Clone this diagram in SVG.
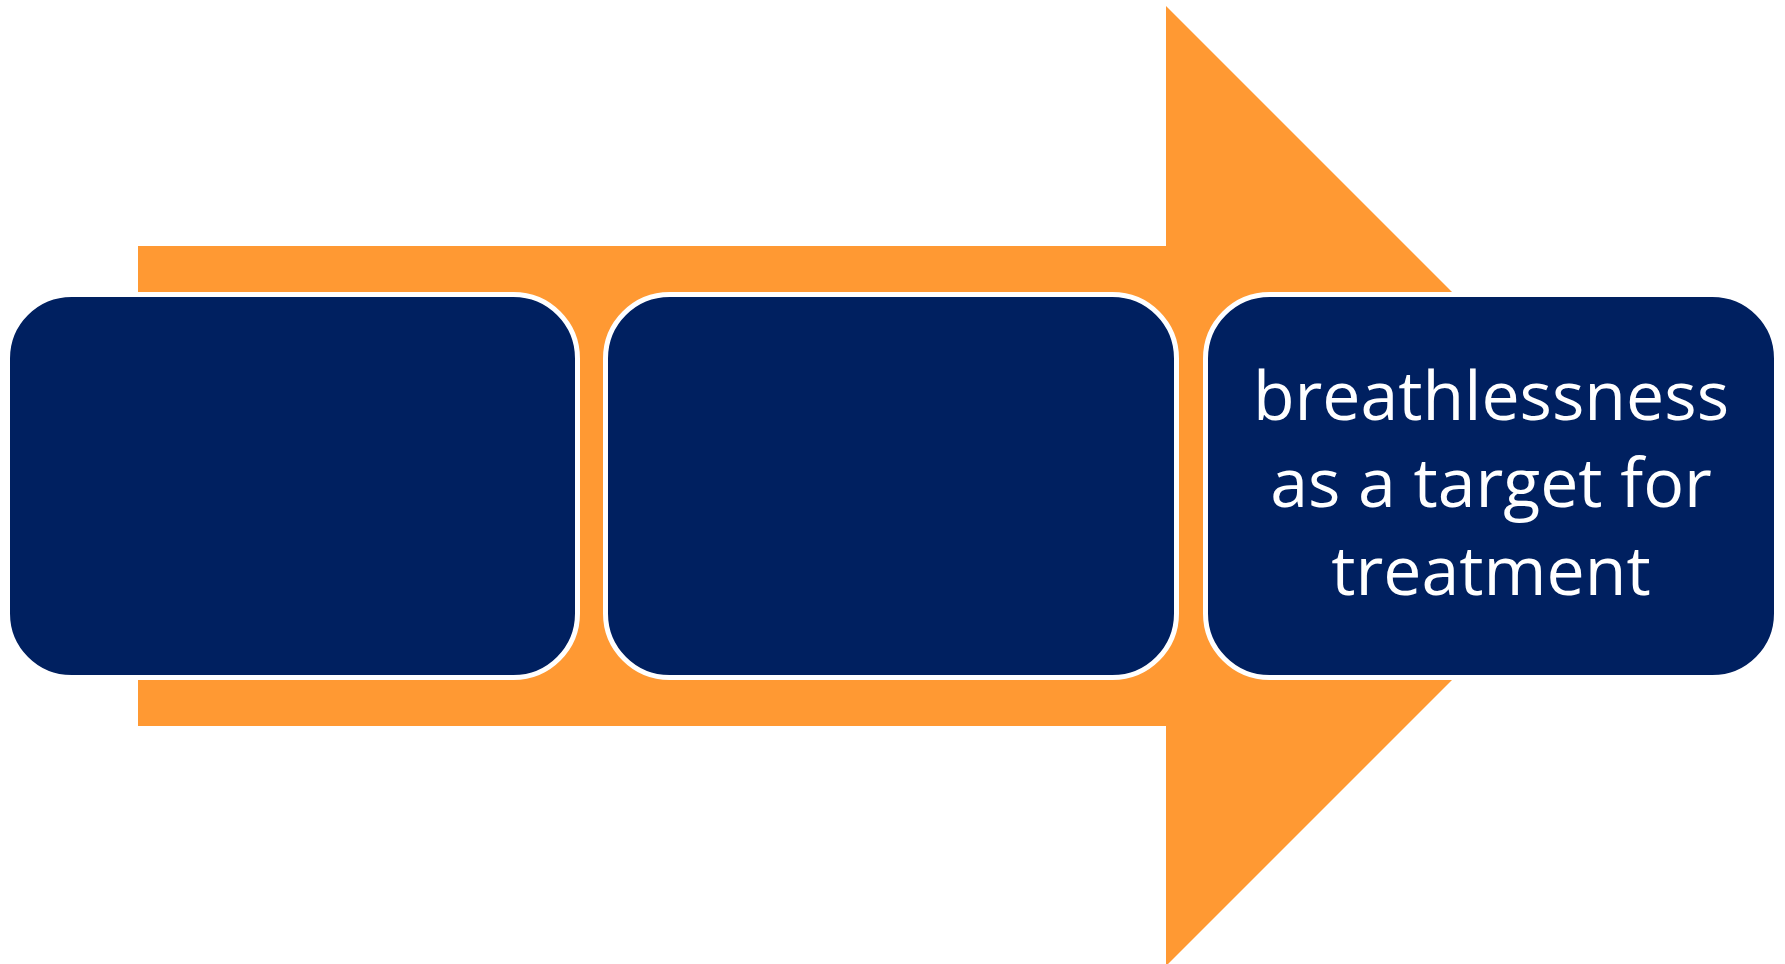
<svg xmlns="http://www.w3.org/2000/svg" width="1785" height="964" viewBox="0 0 1785 964">
<style>
.box{fill:#002060;stroke:#FFFFFF;stroke-width:5}
.lbl{font-family:"Open Sans","Noto Sans","DejaVu Sans",sans-serif;font-size:68px;fill:#FFFFFF;text-anchor:middle}
</style>
<rect width="1785" height="964" fill="#FFFFFF"/>
<g id="arrow">
<polygon points="138,246 1166,246 1166,6 1646,486 1166,966 1166,726 138,726" fill="#FF9933"/>
</g>
<g id="box1">
<rect class="box" x="7.5" y="294.5" width="570" height="383" rx="64" ry="64"/>
</g>
<g id="box2">
<rect class="box" x="605.5" y="294.5" width="571" height="383" rx="64" ry="64"/>
</g>
<g id="box3">
<rect class="box" x="1205.5" y="294.5" width="571" height="383" rx="64" ry="64"/>
<text class="lbl" x="1491" y="420">breathlessness</text>
<text class="lbl" x="1491" y="507">as a target for</text>
<text class="lbl" x="1491" y="595">treatment</text>
</g>
</svg>
